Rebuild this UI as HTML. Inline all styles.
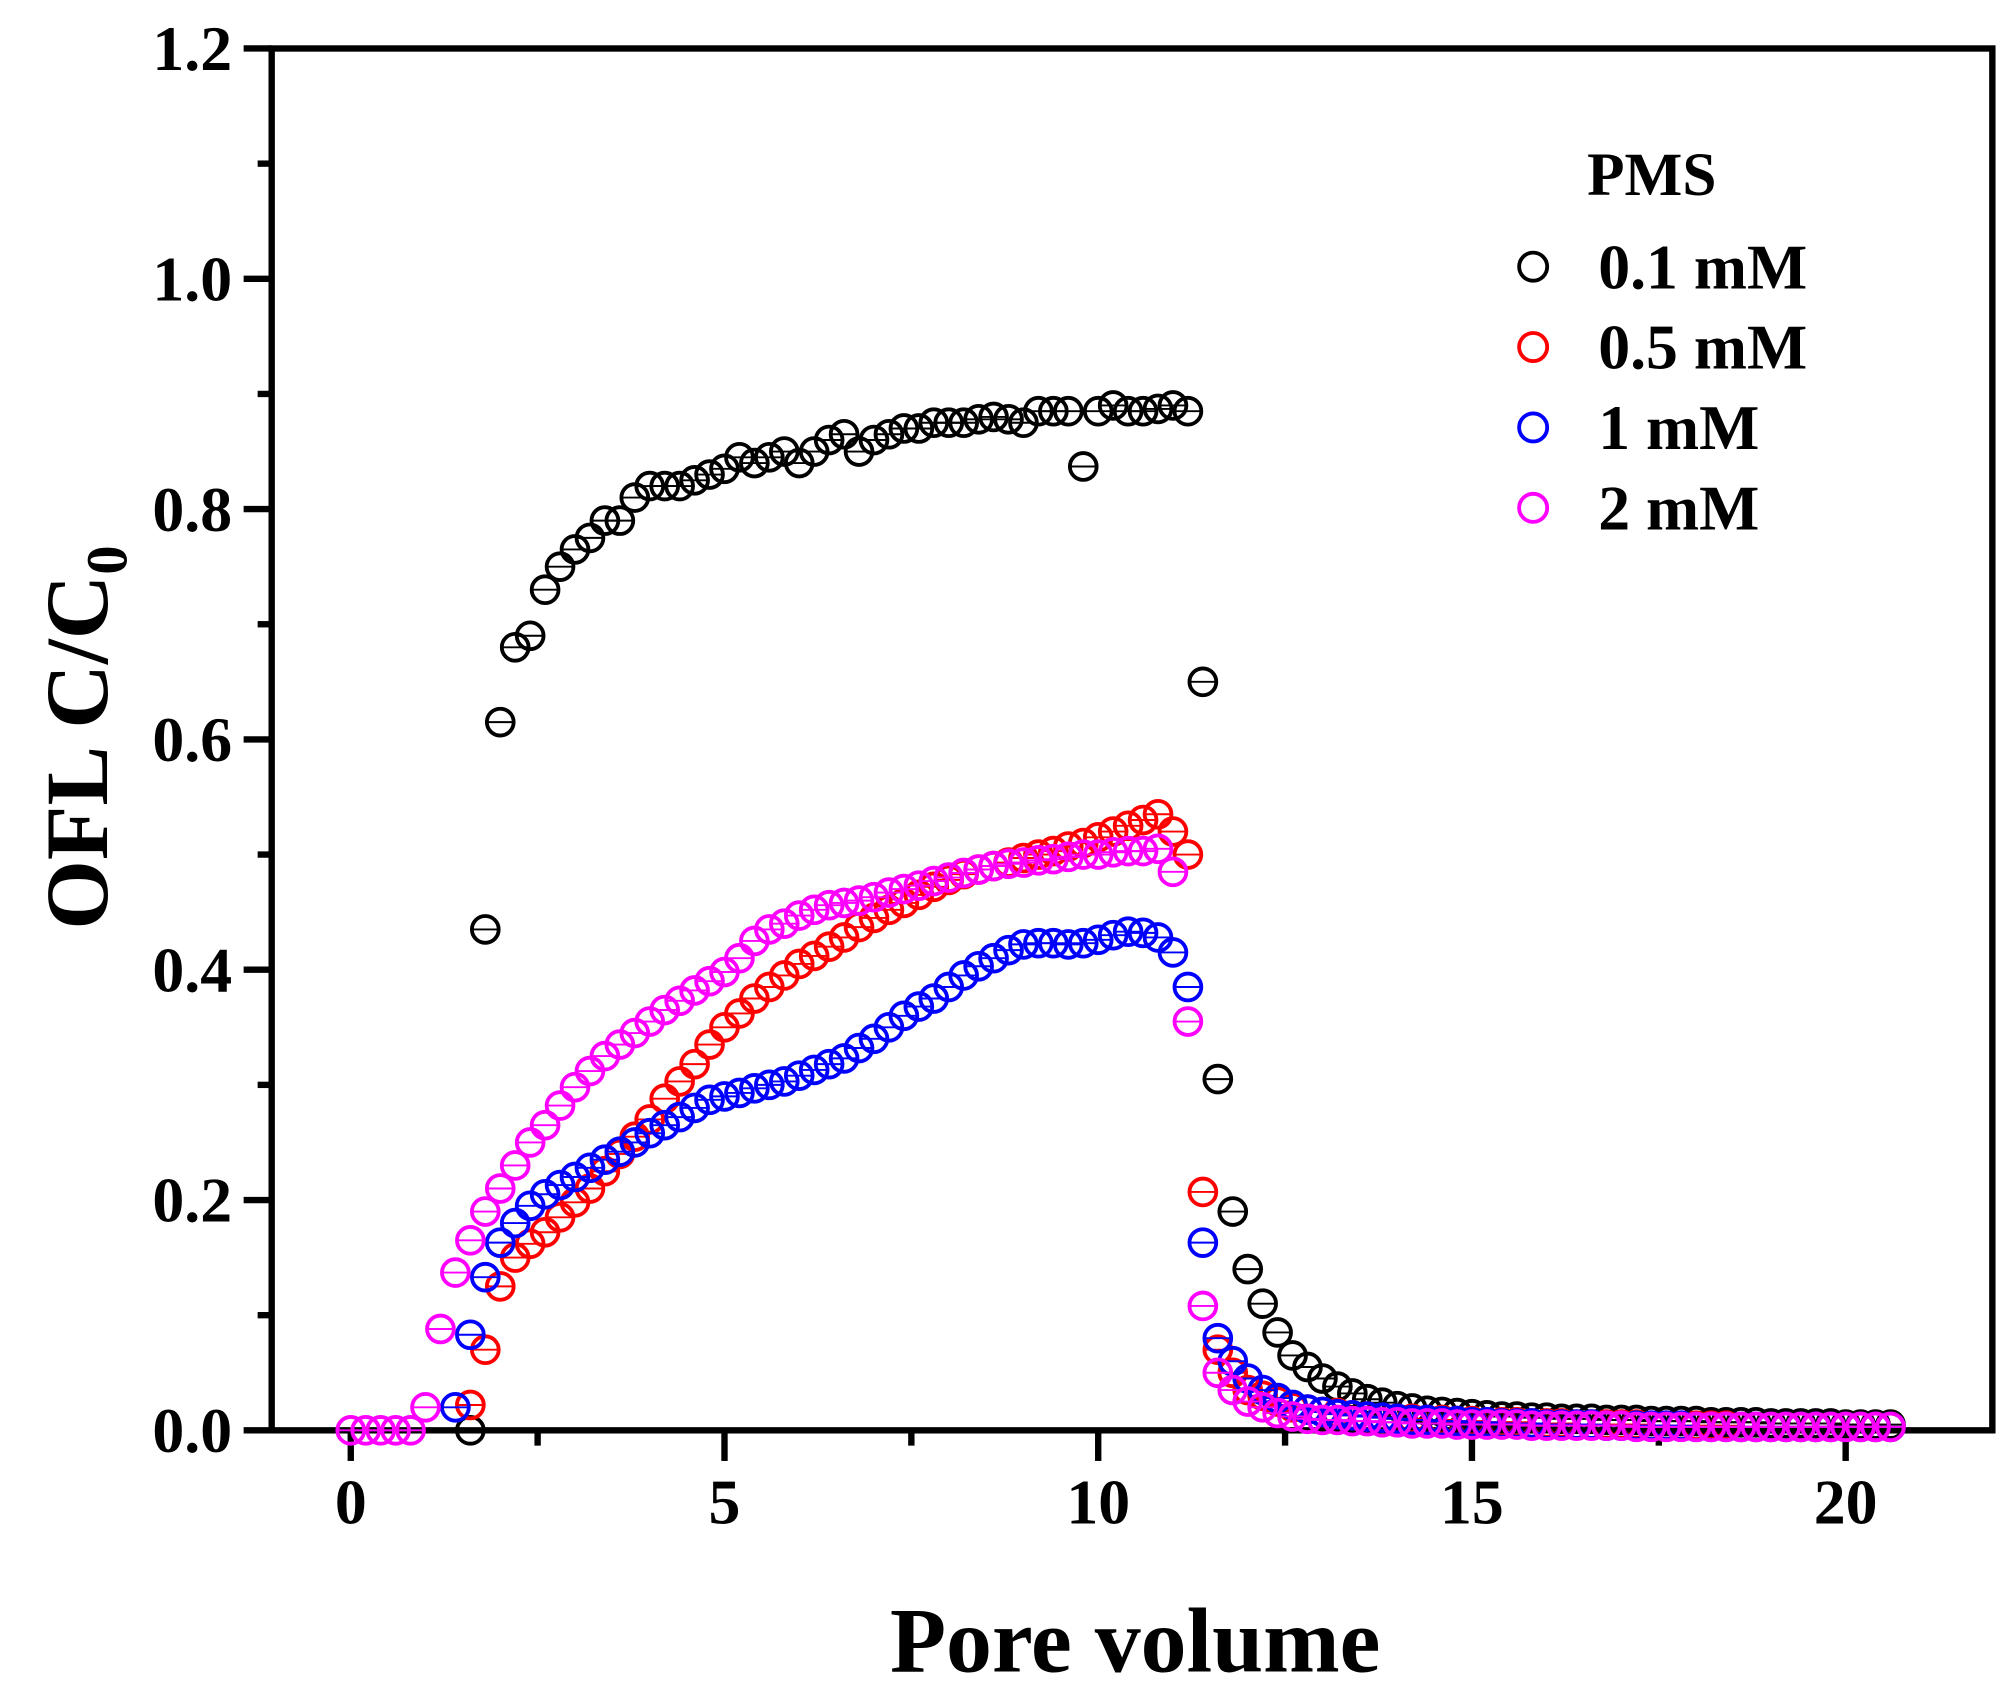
<!DOCTYPE html>
<html><head><meta charset="utf-8"><style>
html,body{margin:0;padding:0;background:#fff;}
svg{display:block;}
text{font-family:"Liberation Serif",serif;font-weight:bold;fill:#000;}
</style></head><body>
<svg id="chart" width="2000" height="1697" viewBox="0 0 1568 1330" preserveAspectRatio="none" xmlns="http://www.w3.org/2000/svg">
<g id="axes"></g>
<g id="marks"></g>
<text x="890" y="1310" font-size="72" text-anchor="middle">Pore volume</text>
<text transform="translate(84,578) rotate(-90)" font-size="70" text-anchor="middle">OFL C/C<tspan font-size="46" dy="15">0</tspan></text>
<g>
<text x="1295" y="153" font-size="48" text-anchor="middle">PMS</text>
<g><circle cx="1202" cy="209" r="11" fill="none" stroke="#000" stroke-width="3"/><text x="1253" y="226" font-size="50">0.1 mM</text></g>
<g><circle cx="1202" cy="272" r="11" fill="none" stroke="#ff0000" stroke-width="3"/><text x="1253" y="289" font-size="50">0.5 mM</text></g>
<g><circle cx="1202" cy="335" r="11" fill="none" stroke="#0000ff" stroke-width="3"/><text x="1253" y="352" font-size="50">1 mM</text></g>
<g><circle cx="1202" cy="398" r="11" fill="none" stroke="#ff00ff" stroke-width="3"/><text x="1253" y="415" font-size="50">2 mM</text></g>
</g>
</svg>
<script>
const xTicks=[0,5,10,15,20];
const yTicks=[0.0,0.2,0.4,0.6,0.8,1.0,1.2];
const yTickLabels=["0.0","0.2","0.4","0.6","0.8","1.0","1.2"];
const pvStep=0.2;
const tail01=[0.045,0.038,0.032,0.027,0.024,0.021,0.019,0.017,0.016,0.015,0.014,0.013,0.012,0.012,0.011,0.011,0.01,0.01,0.01,0.009,0.009,0.009,0.008,0.008,0.008,0.008,0.007,0.007,0.007,0.007,0.006,0.006,0.006,0.006,0.006,0.005,0.005,0.005,0.005];
const s01=[null,null,null,null,null,null,null,null,0.0,0.435,0.615,0.68,0.69,0.73,0.75,0.765,0.775,0.79,0.79,0.81,0.82,0.82,0.82,0.825,0.83,0.835,0.845,0.84,0.845,0.85,0.84,0.85,0.86,0.865,0.85,0.86,0.865,0.87,0.87,0.875,0.875,0.875,0.878,0.88,0.878,0.875,0.885,0.885,0.885,0.837,0.885,0.89,0.885,0.885,0.887,0.89,0.885,0.65,0.305,0.19,0.14,0.11,0.085,0.065,0.055];
const tail05=[0.018,0.016,0.015,0.013,0.012,0.011,0.01,0.01,0.009,0.009,0.008,0.008,0.007,0.007,0.007,0.006,0.006,0.006,0.005,0.005,0.005,0.005,0.005,0.004,0.004,0.004,0.004,0.004,0.004,0.003,0.003,0.003,0.003,0.003,0.003,0.003,0.003,0.003,0.003,0.003];
const s05=[null,null,null,null,null,null,null,null,0.022,0.07,0.125,0.15,0.162,0.172,0.185,0.198,0.21,0.225,0.24,0.255,0.27,0.288,0.303,0.318,0.335,0.35,0.362,0.375,0.385,0.395,0.405,0.412,0.42,0.428,0.437,0.445,0.452,0.458,0.465,0.472,0.478,0.483,0.487,0.49,0.493,0.497,0.5,0.503,0.507,0.51,0.515,0.52,0.525,0.53,0.535,0.52,0.5,0.207,0.07,0.05,0.035,0.03,0.025,0.02];
const tail1=[0.018,0.016,0.014,0.013,0.012,0.011,0.01,0.009,0.009,0.008,0.008,0.007,0.007,0.006,0.006,0.006,0.005,0.005,0.005,0.005,0.004,0.004,0.004,0.004,0.004,0.004,0.003,0.003,0.003,0.003,0.003,0.003,0.003,0.003,0.003,0.003,0.003,0.003,0.003,0.003];
const s1=[null,null,null,null,null,null,null,0.02,0.083,0.133,0.163,0.18,0.195,0.205,0.213,0.22,0.228,0.235,0.242,0.25,0.258,0.265,0.272,0.28,0.287,0.29,0.293,0.297,0.3,0.303,0.308,0.313,0.318,0.323,0.332,0.34,0.35,0.36,0.368,0.375,0.385,0.395,0.403,0.41,0.417,0.422,0.423,0.423,0.422,0.423,0.426,0.43,0.433,0.432,0.428,0.415,0.385,0.163,0.08,0.06,0.045,0.035,0.028,0.022];
const tail2=[0.01,0.009,0.009,0.008,0.008,0.007,0.007,0.006,0.006,0.006,0.005,0.005,0.005,0.005,0.005,0.004,0.004,0.004,0.004,0.004,0.004,0.004,0.003,0.003,0.003,0.003,0.003,0.003,0.003,0.003,0.003,0.003,0.003,0.003,0.003,0.003,0.003,0.003,0.003,0.003];
const s2=[0.0,0.0,0.0,0.0,0.0,0.02,0.088,0.137,0.165,0.19,0.21,0.23,0.25,0.265,0.282,0.298,0.312,0.325,0.335,0.345,0.355,0.365,0.373,0.382,0.39,0.398,0.41,0.425,0.435,0.44,0.447,0.452,0.456,0.458,0.46,0.463,0.467,0.47,0.473,0.477,0.48,0.484,0.487,0.49,0.492,0.493,0.495,0.496,0.498,0.5,0.5,0.502,0.503,0.503,0.505,0.485,0.355,0.108,0.05,0.035,0.025,0.02,0.015,0.012];

const X0=275, XS=58.6, Y0=1121, YS=902.5;
const L=213, R=1562, T=38, B=1121;
function xs(v){return X0+v*XS;}
function ys(v){return Y0-v*YS;}
const NS="http://www.w3.org/2000/svg";
function mk(tag,attrs,parent){const e=document.createElementNS(NS,tag);for(const k in attrs)e.setAttribute(k,attrs[k]);parent.appendChild(e);return e;}
const ax=document.getElementById('axes');
let f=mk('rect',{x:L,y:T,width:R-L,height:B-T,fill:'none',stroke:'#000','stroke-width':5},ax);


yTicks.forEach((v,i)=>{
  let t=mk('line',{x1:L-22,x2:L,y1:ys(v),y2:ys(v),stroke:'#000','stroke-width':5},ax);
  
  
  let lb=mk('text',{x:182,y:ys(v)+17,'font-size':50,'text-anchor':'end'},ax);
  lb.textContent=yTickLabels[i];
  
  
  if(i<yTicks.length-1){
    let m=mk('line',{x1:L-11,x2:L,y1:ys(v+0.1),y2:ys(v+0.1),stroke:'#000','stroke-width':5},ax);
    
    
  }
});
xTicks.forEach((v,i)=>{
  let t=mk('line',{x1:xs(v),x2:xs(v),y1:B,y2:B+24,stroke:'#000','stroke-width':5},ax);
  
  
  let lb=mk('text',{x:xs(v),y:1194,'font-size':50,'text-anchor':'middle'},ax);
  lb.textContent=String(v);
  
  
  if(i<xTicks.length-1){
    let m=mk('line',{x1:xs(v+2.5),x2:xs(v+2.5),y1:B,y2:B+12,stroke:'#000','stroke-width':5},ax);
    
    
  }
});
const marks=document.getElementById('marks');
const series=[
  {name:'series-0-1mm',color:'#000000',ys:s01.concat(tail01)},
  {name:'series-0-5mm',color:'#ff0000',ys:s05.concat(tail05)},
  {name:'series-1mm',color:'#0000ff',ys:s1.concat(tail1)},
  {name:'series-2mm',color:'#ff00ff',ys:s2.concat(tail2)}
];
series.forEach(s=>{
  const g=mk('g',{},marks);
  
  
  s.ys.forEach((v,i)=>{
    if(v===null)return;
    const cx=xs(i*pvStep), cy=ys(v);
    const c=mk('circle',{cx:cx,cy:cy,r:10.5,fill:'none',stroke:s.color,'stroke-width':3},g);
    
    
    const h=mk('line',{x1:cx-10,x2:cx+10,y1:cy,y2:cy,stroke:s.color,'stroke-width':1.5},g);
    
    
  });
});
</script>
</body></html>
